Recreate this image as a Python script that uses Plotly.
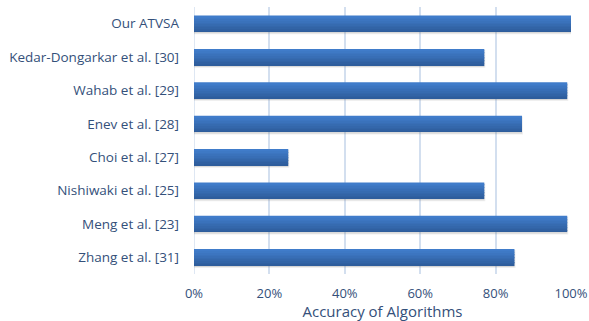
import plotly.graph_objects as go

# Accuracy of each detection approach (fraction of 1)
methods = [
    "Zhang et al. [31]",
    "Meng et al. [23]",
    "Nishiwaki et al. [25]",
    "Choi et al. [27]",
    "Enev et al. [28]",
    "Wahab et al. [29]",
    "Kedar-Dongarkar et al. [30]",
    "Our ATVSA",
]
accuracy = [0.85, 0.99, 0.77, 0.25, 0.87, 0.99, 0.77, 1.00]

tick_vals = [0, 0.2, 0.4, 0.6, 0.8, 1.0]
tick_text = ["0%", "20%", "40%", "60%", "80%", "100%"]

text_color = "#34507A"
font_family = "Open Sans, Lato, sans-serif"

bar_w = 0.48
fig = go.Figure()

# soft drop shadow under each bar
fig.add_trace(go.Bar(
    y=methods, x=accuracy, orientation="h",
    width=bar_w, offset=-bar_w / 2 - 0.05,
    marker=dict(color="rgba(120,120,120,0.22)",
                line=dict(color="rgba(120,120,120,0.12)", width=2)),
    hoverinfo="skip", showlegend=False,
))

# vertical gradient: lighter on top, darker at the bottom
top_rgb = (64, 124, 202)
bot_rgb = (46, 93, 156)
n_strips = 10
for k in range(n_strips):
    t = k / (n_strips - 1)
    r = round(bot_rgb[0] + (top_rgb[0] - bot_rgb[0]) * t)
    g = round(bot_rgb[1] + (top_rgb[1] - bot_rgb[1]) * t)
    b = round(bot_rgb[2] + (top_rgb[2] - bot_rgb[2]) * t)
    fig.add_trace(go.Bar(
        y=methods, x=accuracy, orientation="h",
        width=bar_w / n_strips + 0.002,
        offset=-bar_w / 2 + k * bar_w / n_strips,
        marker=dict(color=f"rgb({r},{g},{b})", line=dict(width=0)),
        hoverinfo="skip" if k else None, showlegend=False,
    ))

fig.update_layout(
    width=589, height=321,
    margin=dict(l=194, r=18, t=7, b=47, autoexpand=False),
    paper_bgcolor="white", plot_bgcolor="white",
    barmode="overlay",
    font=dict(family=font_family, size=13.5, color=text_color),
    xaxis=dict(
        range=[0, 1.0], tickvals=tick_vals, ticktext=tick_text,
        showgrid=True, gridcolor="#D3DFEF", gridwidth=1.5,
        zeroline=False, showline=False, ticks="",
        ticklabelstandoff=10,
        tickfont=dict(size=13, color=text_color),
        title=dict(text="Accuracy of Algorithms",
                   font=dict(size=15, color=text_color), standoff=2),
        automargin=False,
    ),
    yaxis=dict(
        categoryorder="array", categoryarray=methods,
        showgrid=False, zeroline=False, showline=False, ticks="",
        ticklabelstandoff=14, automargin=False,
        tickfont=dict(size=13.5, color=text_color),
    ),
)
# left axis line (0% gridline)
fig.add_shape(type="line", xref="x", yref="paper", x0=0, x1=0, y0=0, y1=1,
              line=dict(color="#D3DFEF", width=1.5), layer="below")

fig.write_html("out.html")
